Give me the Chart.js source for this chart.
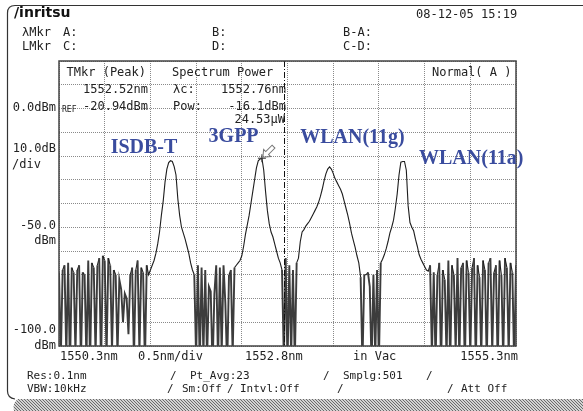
<!DOCTYPE html>
<html>
<head>
<meta charset="utf-8">
<script src="https://cdn.jsdelivr.net/npm/chart.js@4/dist/chart.umd.min.js"></script>
<style>
  html, body { margin: 0; padding: 0; background: #fff; overflow: hidden; }
  canvas { display: block; }
</style>
</head>
<body>
<canvas id="osa" width="583" height="411" style="width:583px;height:411px"></canvas>
<script>
// Sweep grid: 1550.3 nm start, 0.02 nm between samples (251 samples)
const startNm = 1550.3;
const stepNm = 0.02;

// Measured power per sample, dBm
const powerDbm = [
  // noise floor, 1550.30 - 1551.28 nm
  -69, -105, -68, -66, -104, -65, -110, -67, -69, -103,
  -68, -66, -107, -69, -70, -106, -64, -108, -65, -67,
  -104, -66, -63, -109, -62, -64, -105, -63, -66, -102,
  -68, -70, -104, -72, -76, -90, -78, -80, -95, -70,
  -67, -106, -68, -64, -103, -67, -69, -108, -66, -70,
  // ISDB-T carrier
  -68, -66, -64, -61, -57, -52, -45, -39, -31, -25.5,
  -22.8, -22, -22.3, -24.5, -28, -38, -45, -50, -52.5, -55,
  -58, -61, -65, -68, -70,
  // noise floor
  -105, -66, -108, -67, -104, -68, -106, -75, -77, -110,
  -78, -66, -107, -67, -103, -66, -82, -109, -70, -68,
  -104, -67,
  // 3GPP carrier
  -66, -65, -64, -62, -58, -53, -49, -45, -40, -35,
  -30, -25, -22, -21.3, -20.94, -26, -35, -43, -48.5, -52,
  -54, -57, -60, -63, -65, -68,
  // noise floor
  -106, -63, -108, -66, -104, -68, -107, -65,
  // WLAN 802.11g carrier
  -63, -56, -52, -51, -49.5, -48.5, -47.5, -46, -44.5, -43,
  -41.5, -39.5, -37, -34, -30.5, -27.5, -25.5, -24.6, -25.5, -27.3,
  -29.5, -31, -32.5, -34, -36, -39, -42, -45, -48.5, -52.5,
  -55.5, -58.5, -62, -65, -71,
  // noise floor
  -108, -70, -70, -69, -75, -109, -70, -105, -68, -107,
  // WLAN 802.11a carrier
  -65, -63.5, -61.5, -59, -56, -52.5, -50, -47, -42, -36,
  -28, -22.6, -22.3, -22.3, -26, -41, -48, -50, -51.5, -55,
  -58, -61.5, -63.5, -65, -66.5, -68, -68.5,
  // noise floor, up to 1555.30 nm
  -66, -104, -69, -107, -70, -65, -109, -68, -72, -105,
  -64, -108, -66, -70, -103, -63, -106, -67, -65, -110,
  -64, -69, -104, -67, -63, -108, -66, -71, -105, -64,
  -68, -107, -65, -63, -103, -69, -66, -109, -64, -70,
  -106, -63, -67, -104, -65, -69, -108, -66
];

// Grid divisions: 0.5 nm/div and 10 dB/div
const xGridNm = [1550.3, 1550.8, 1551.3, 1551.8, 1552.3, 1552.8, 1553.3, 1553.8, 1554.3, 1554.8, 1555.3];
const yGridDbm = [-100, -90, -80, -70, -60, -50, -40, -30, -20, -10, 0, 10, 20];

// Trace marker (peak search) and spectrum-power centre wavelength
const peakNm = 1552.52;
const peakDbm = -20.94;
const centerNm = 1552.76;

// Signal names with the wavelength / level their captions are centred on
const signalNames = ['ISDB-T', '3GPP', 'WLAN(11g)', 'WLAN(11a)'];
const signalLabelNm = [1551.23, 1552.21, 1553.51, 1554.81];
const signalLabelDbm = [-16.6, -12.0, -12.4, -21.3];

const tracePoints = powerDbm.map((p, i) => ({ x: +(startNm + i * stepNm).toFixed(2), y: p }));

const MONO = '"DejaVu Sans Mono", "Liberation Mono", monospace';
const INK = '#222';

function txt(ctx, s, x, y, align, font, color) {
  ctx.font = font || ('12px ' + MONO);
  ctx.fillStyle = color || INK;
  ctx.textAlign = align || 'left';
  ctx.textBaseline = 'middle';
  ctx.fillText(s, x, y);
}

function hatchPattern(ctx) {
  const c = document.createElement('canvas');
  c.width = 3; c.height = 3;
  const g = c.getContext('2d');
  g.fillStyle = '#d2d2d2';
  g.fillRect(0, 0, 3, 3);
  g.fillStyle = '#6a6a6a';
  g.fillRect(0, 0, 1, 1);
  g.fillRect(1, 1, 1, 1);
  g.fillRect(2, 2, 1, 1);
  return ctx.createPattern(c, 'repeat');
}

// segments that drop into the noise floor are drawn a little heavier
const inFloor = c => c.p0.parsed.y < -74 || c.p1.parsed.y < -74;

const osaPanel = {
  id: 'osaPanel',
  beforeDraw(chart) {
    const ctx = chart.ctx;
    ctx.save();
    ctx.fillStyle = '#fff';
    ctx.fillRect(0, 0, chart.width, chart.height);
    // bottom shadow band
    ctx.fillStyle = hatchPattern(ctx);
    ctx.beginPath();
    ctx.moveTo(583, 399);
    ctx.lineTo(18, 399);
    ctx.quadraticCurveTo(12, 403, 14, 411);
    ctx.lineTo(583, 411);
    ctx.closePath();
    ctx.fill();
    // outer screen frame
    ctx.strokeStyle = '#333';
    ctx.lineWidth = 1.2;
    ctx.beginPath();
    ctx.moveTo(583, 5.5);
    ctx.lineTo(15, 5.5);
    ctx.quadraticCurveTo(7.5, 5.5, 7.5, 13);
    ctx.lineTo(7.5, 391);
    ctx.quadraticCurveTo(7.5, 398, 15, 399);
    ctx.stroke();
    ctx.restore();
  },
  afterDatasetsDraw(chart) {
    const ctx = chart.ctx;
    const xs = chart.scales.x, ys = chart.scales.y, a = chart.chartArea;
    ctx.save();
    // centre wavelength marker (dash-dot)
    const cx = Math.round(xs.getPixelForValue(centerNm)) + 0.5;
    ctx.strokeStyle = '#111';
    ctx.lineWidth = 1;
    ctx.setLineDash([6, 2, 1, 2]);
    ctx.beginPath();
    ctx.moveTo(cx, a.top);
    ctx.lineTo(cx, a.bottom);
    ctx.stroke();
    ctx.setLineDash([]);
    // peak marker: cross plus hollow arrow
    const px = xs.getPixelForValue(peakNm), py = ys.getPixelForValue(peakDbm);
    ctx.strokeStyle = '#333';
    ctx.beginPath();
    ctx.moveTo(px - 4, py); ctx.lineTo(px + 4, py);
    ctx.moveTo(px, py - 4); ctx.lineTo(px, py + 4);
    ctx.stroke();
    ctx.translate(px + 1, py - 1);
    ctx.rotate(-Math.PI / 4);
    ctx.strokeStyle = '#777';
    ctx.lineWidth = 1;
    ctx.beginPath();
    ctx.moveTo(0, 0);
    ctx.lineTo(6, -5);
    ctx.lineTo(6, -2);
    ctx.lineTo(15, -2);
    ctx.lineTo(15, 2);
    ctx.lineTo(6, 2);
    ctx.lineTo(6, 5);
    ctx.closePath();
    ctx.stroke();
    ctx.restore();
  },
  afterDraw(chart) {
    const ctx = chart.ctx;
    const a = chart.chartArea;
    const xs = chart.scales.x, ys = chart.scales.y;
    const small = '11px ' + MONO;
    ctx.save();
    // plot frame
    ctx.strokeStyle = '#444';
    ctx.lineWidth = 1.5;
    ctx.strokeRect(a.left, a.top, a.right - a.left, a.bottom - a.top);

    // header
    txt(ctx, '/inritsu', 14, 13, 'left', 'bold 14px "DejaVu Sans", sans-serif', '#111');
    txt(ctx, '08-12-05 15:19', 416, 15);
    txt(ctx, '\u03BBMkr', 22, 33);
    txt(ctx, 'A:', 63, 33);
    txt(ctx, 'B:', 212, 33);
    txt(ctx, 'B-A:', 343, 33);
    txt(ctx, 'LMkr', 22, 47);
    txt(ctx, 'C:', 63, 47);
    txt(ctx, 'D:', 212, 47);
    txt(ctx, 'C-D:', 343, 47);

    // readouts inside the plot
    txt(ctx, 'TMkr (Peak)', 146, 73, 'right');
    txt(ctx, '1552.52nm', 148, 90, 'right');
    txt(ctx, 'REF', 62, 110, 'left', '8px ' + MONO);
    txt(ctx, '-20.94dBm', 148, 107, 'right');
    txt(ctx, 'Spectrum Power', 172, 73);
    txt(ctx, '\u03BBc:', 173, 90);
    txt(ctx, '1552.76nm', 286, 90, 'right');
    txt(ctx, 'Pow:', 173, 107);
    txt(ctx, '-16.1dBm', 286, 107, 'right');
    txt(ctx, '24.53\u03BCW', 285, 120, 'right');
    txt(ctx, 'Normal( A )', 432, 73);

    // level scale
    txt(ctx, '0.0dBm', 56, 108, 'right');
    txt(ctx, '10.0dB', 56, 149, 'right');
    txt(ctx, '/div', 12, 165);
    txt(ctx, '-50.0', 56, 226, 'right');
    txt(ctx, 'dBm', 56, 241, 'right');
    txt(ctx, '-100.0', 56, 330, 'right');
    txt(ctx, 'dBm', 56, 346, 'right');

    // wavelength scale
    txt(ctx, xGridNm[0].toFixed(1) + 'nm', 60, 357);
    txt(ctx, '0.5nm/div', 138, 357);
    txt(ctx, xGridNm[5].toFixed(1) + 'nm', 245, 357);
    txt(ctx, 'in Vac', 353, 357);
    txt(ctx, xGridNm[10].toFixed(1) + 'nm', 518, 357, 'right');

    // measurement conditions
    txt(ctx, 'Res:0.1nm', 27, 376, 'left', small);
    txt(ctx, '/', 170, 376, 'left', small);
    txt(ctx, 'Pt_Avg:23', 190, 376, 'left', small);
    txt(ctx, '/', 323, 376, 'left', small);
    txt(ctx, 'Smplg:501', 343, 376, 'left', small);
    txt(ctx, '/', 426, 376, 'left', small);
    txt(ctx, 'VBW:10kHz', 27, 389, 'left', small);
    txt(ctx, '/', 167, 389, 'left', small);
    txt(ctx, 'Sm:Off', 182, 389, 'left', small);
    txt(ctx, '/', 227, 389, 'left', small);
    txt(ctx, 'Intvl:Off', 240, 389, 'left', small);
    txt(ctx, '/', 337, 389, 'left', small);
    txt(ctx, '/', 447, 389, 'left', small);
    txt(ctx, 'Att Off', 461, 389, 'left', small);

    // signal captions
    signalNames.forEach((name, i) => {
      txt(ctx, name, xs.getPixelForValue(signalLabelNm[i]), ys.getPixelForValue(signalLabelDbm[i]),
          'center', 'bold 20px "Liberation Serif", "Times New Roman", serif', '#3a4c9e');
    });
    ctx.restore();
  }
};

const gridStyle = { color: '#8a8a8a', lineWidth: 1, drawTicks: false };

new Chart(document.getElementById('osa'), {
  type: 'line',
  data: {
    datasets: [{
      data: tracePoints,
      borderColor: '#1e1e1e',
      borderWidth: 1.1,
      pointRadius: 0,
      tension: 0,
      fill: false,
      segment: {
        borderWidth: c => inFloor(c) ? 1.9 : 1.1,
        borderColor: c => inFloor(c) ? '#3c3c3c' : '#1e1e1e'
      }
    }]
  },
  options: {
    responsive: false,
    animation: false,
    events: [],
    layout: { padding: { left: 59, top: 61, right: 67, bottom: 65 } },
    plugins: { legend: { display: false }, tooltip: { enabled: false } },
    scales: {
      x: {
        type: 'linear',
        min: xGridNm[0],
        max: xGridNm[xGridNm.length - 1],
        afterBuildTicks: s => { s.ticks = xGridNm.map(v => ({ value: v })); },
        ticks: { display: false },
        grid: gridStyle,
        border: { display: false, dash: [1, 1] }
      },
      y: {
        type: 'linear',
        min: yGridDbm[0],
        max: yGridDbm[yGridDbm.length - 1],
        afterBuildTicks: s => { s.ticks = yGridDbm.map(v => ({ value: v })); },
        ticks: { display: false },
        grid: gridStyle,
        border: { display: false, dash: [1, 1] }
      }
    }
  },
  plugins: [osaPanel]
});
</script>
</body>
</html>
